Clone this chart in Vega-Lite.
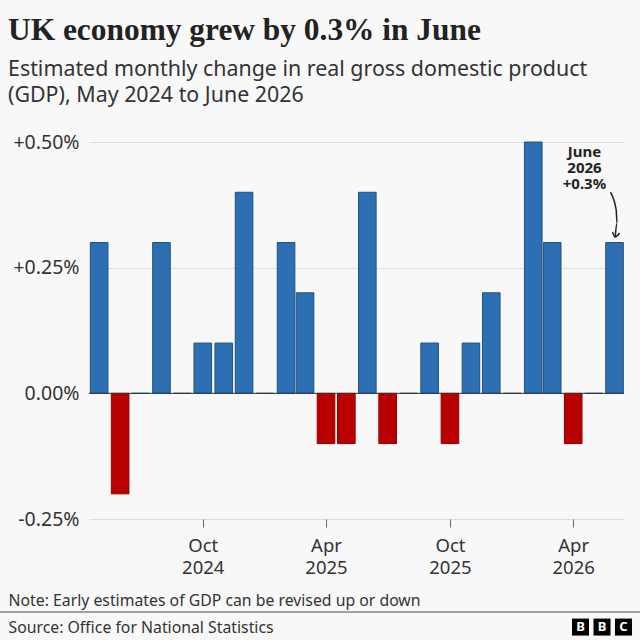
{
  "$schema": "https://vega.github.io/schema/vega-lite/v6.json",
  "description": "UK monthly GDP change",
  "autosize": "none",
  "width": 535,
  "height": 377,
  "padding": {"left": 89, "top": 142, "right": 16, "bottom": 121},
  "background": "#f8f8f8",
  "title": {
    "text": "UK economy grew by 0.3% in June",
    "subtitle": ["Estimated monthly change in real gross domestic product", "(GDP), May 2024 to June 2026"],
    "anchor": "start",
    "frame": "group",
    "dx": -81,
    "offset": 26,
    "font": "Liberation Serif",
    "fontSize": 31.4,
    "fontWeight": "bold",
    "color": "#222222",
    "subtitleFont": "Noto Sans",
    "subtitleFontSize": 21.4,
    "subtitleLineHeight": 26,
    "subtitleColor": "#333333",
    "subtitlePadding": 12
  },
  "config": {
    "view": {"stroke": null},
    "font": "Noto Sans"
  },
  "datasets": {
    "gdp": [
      {"month": "2024-05-01T00:00", "change": 0.3},
      {"month": "2024-06-01T00:00", "change": -0.2},
      {"month": "2024-07-01T00:00", "change": 0},
      {"month": "2024-08-01T00:00", "change": 0.3},
      {"month": "2024-09-01T00:00", "change": 0},
      {"month": "2024-10-01T00:00", "change": 0.1},
      {"month": "2024-11-01T00:00", "change": 0.1},
      {"month": "2024-12-01T00:00", "change": 0.4},
      {"month": "2025-01-01T00:00", "change": 0},
      {"month": "2025-02-01T00:00", "change": 0.3},
      {"month": "2025-03-01T00:00", "change": 0.2},
      {"month": "2025-04-01T00:00", "change": -0.1},
      {"month": "2025-05-01T00:00", "change": -0.1},
      {"month": "2025-06-01T00:00", "change": 0.4},
      {"month": "2025-07-01T00:00", "change": -0.1},
      {"month": "2025-08-01T00:00", "change": 0},
      {"month": "2025-09-01T00:00", "change": 0.1},
      {"month": "2025-10-01T00:00", "change": -0.1},
      {"month": "2025-11-01T00:00", "change": 0.1},
      {"month": "2025-12-01T00:00", "change": 0.2},
      {"month": "2026-01-01T00:00", "change": 0},
      {"month": "2026-02-01T00:00", "change": 0.5},
      {"month": "2026-03-01T00:00", "change": 0.3},
      {"month": "2026-04-01T00:00", "change": -0.1},
      {"month": "2026-05-01T00:00", "change": 0},
      {"month": "2026-06-01T00:00", "change": 0.3}
    ],
    "arrow": [
      {"part": "shaft", "step": 1, "pos": 25.34, "level": 0.4},
      {"part": "shaft", "step": 2, "pos": 25.62, "level": 0.365},
      {"part": "shaft", "step": 3, "pos": 25.66, "level": 0.339},
      {"part": "shaft", "step": 4, "pos": 25.57, "level": 0.311},
      {"part": "head", "step": 1, "pos": 25.44, "level": 0.321},
      {"part": "head", "step": 2, "pos": 25.57, "level": 0.311},
      {"part": "head", "step": 3, "pos": 25.78, "level": 0.319}
    ]
  },
  "resolve": {"scale": {"x": "independent"}},
  "layer": [
    {
      "data": {"name": "gdp"},
      "mark": {"type": "bar", "width": 17.6, "strokeWidth": 1},
      "encoding": {
        "x": {
          "field": "month",
          "type": "temporal",
          "scale": {"padding": 0, "domain": [{"year": 2024, "month": "apr", "date": 16}, {"year": 2026, "month": "jun", "date": 15}]},
          "axis": {
            "values": [
              {"year": 2024, "month": "oct", "date": 1},
              {"year": 2025, "month": "apr", "date": 1},
              {"year": 2025, "month": "oct", "date": 1},
              {"year": 2026, "month": "apr", "date": 1}
            ],
            "labelExpr": "[timeFormat(datum.value, '%b'), timeFormat(datum.value, '%Y')]",
            "labelAngle": 0,
            "labelFontSize": 18.5,
            "labelLineHeight": 22,
            "labelColor": "#333333",
            "labelPadding": 9,
            "labelFlush": false,
            "labelOverlap": false,
            "tickSize": 8,
            "tickColor": "#666666",
            "domain": false,
            "grid": false,
            "title": "Note: Early estimates of GDP can be revised up or down",
            "titleFont": "Noto Sans",
            "titleFontSize": 15.8,
            "titleFontWeight": "normal",
            "titleColor": "#333333",
            "titleAlign": "left",
            "titleBaseline": "middle",
            "titleX": -81,
            "titleY": 81
          }
        },
        "y": {
          "field": "change",
          "type": "quantitative",
          "scale": {"domain": [-0.25, 0.5], "nice": false},
          "axis": {
            "values": [-0.25, 0, 0.25, 0.5],
            "labelExpr": "(datum.value > 0 ? '+' : datum.value < 0 ? '-' : '') + format(abs(datum.value), '.2f') + '%'",
            "labelFontSize": 19.5,
            "labelColor": "#333333",
            "labelPadding": 10,
            "ticks": false,
            "domain": false,
            "grid": true,
            "gridColor": "#dddddd",
            "gridWidth": 1.2,
            "title": "Source: Office for National Statistics",
            "titleFont": "Noto Sans",
            "titleFontSize": 15.8,
            "titleFontWeight": "normal",
            "titleColor": "#333333",
            "titleAngle": 0,
            "titleAlign": "left",
            "titleBaseline": "middle",
            "titleX": -81,
            "titleY": 485
          }
        },
        "color": {
          "condition": {"test": "datum.change < 0", "value": "#b80000"},
          "value": "#2c6fb3"
        },
        "stroke": {
          "condition": {"test": "datum.change < 0", "value": "#8f0000"},
          "value": "#24507d"
        }
      }
    },
    {
      "data": {"values": [{"level": 0}]},
      "mark": {"type": "rule", "color": "#333333", "strokeWidth": 1},
      "encoding": {"y": {"field": "level", "type": "quantitative"}}
    },
    {
      "data": {"values": [{"label": "June\n2026\n+0.3%", "pos": 24.08, "level": 0.48}]},
      "mark": {"type": "text", "lineBreak": "\n", "fontSize": 15, "fontWeight": "bold", "color": "#222222", "lineHeight": 16, "align": "center", "baseline": "middle"},
      "encoding": {
        "x": {"field": "pos", "type": "quantitative", "scale": {"domain": [0, 26]}, "axis": null},
        "y": {"field": "level", "type": "quantitative"},
        "text": {"field": "label", "type": "nominal"}
      }
    },
    {
      "data": {"name": "arrow"},
      "mark": {"type": "line", "interpolate": "monotone", "color": "#222222", "strokeWidth": 1.5},
      "encoding": {
        "x": {"field": "pos", "type": "quantitative", "scale": {"domain": [0, 26]}, "axis": null},
        "y": {"field": "level", "type": "quantitative"},
        "detail": {"field": "part", "type": "nominal"},
        "order": {"field": "step", "type": "quantitative"}
      }
    },
    {
      "data": {"values": [{"from": 0, "to": 1, "level": -0.435}]},
      "mark": {"type": "rule", "color": "#444444", "strokeWidth": 1},
      "encoding": {
        "x": {"field": "from", "type": "quantitative", "scale": {"domain": [0, 1], "range": [-89, 551]}, "axis": null},
        "x2": {"field": "to"},
        "y": {"field": "level", "type": "quantitative"}
      }
    },
    {
      "data": {"values": [{"slot": "1", "level": -0.465}, {"slot": "2", "level": -0.465}, {"slot": "3", "level": -0.465}]},
      "mark": {"type": "square", "size": 289, "color": "#000000", "opacity": 1},
      "encoding": {
        "x": {"field": "slot", "type": "nominal", "scale": {"type": "point", "range": [491.5, 534.5], "padding": 0}, "axis": null},
        "y": {"field": "level", "type": "quantitative"}
      }
    },
    {
      "data": {"values": [{"slot": "1", "letter": "B", "level": -0.465}, {"slot": "2", "letter": "B", "level": -0.465}, {"slot": "3", "letter": "C", "level": -0.465}]},
      "mark": {"type": "text", "color": "#ffffff", "fontSize": 13, "fontWeight": "bold", "align": "center", "baseline": "middle"},
      "encoding": {
        "x": {"field": "slot", "type": "nominal", "scale": {"type": "point", "range": [491.5, 534.5], "padding": 0}, "axis": null},
        "y": {"field": "level", "type": "quantitative"},
        "text": {"field": "letter", "type": "nominal"}
      }
    }
  ]
}
